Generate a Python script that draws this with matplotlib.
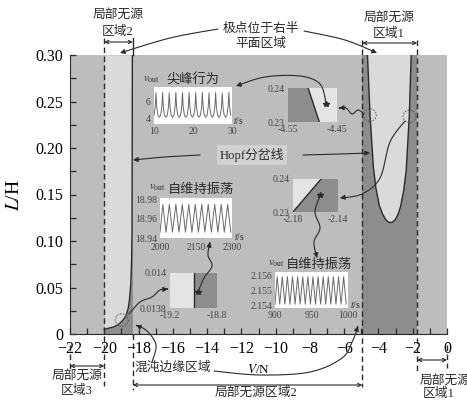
import numpy as np
import matplotlib
matplotlib.use("Agg")
import matplotlib.pyplot as plt
from matplotlib.transforms import Affine2D, blended_transform_factory
from matplotlib.patches import FancyArrowPatch, Ellipse, Polygon
from matplotlib.path import Path
from matplotlib.ticker import MultipleLocator

plt.rcParams['font.family'] = ['Liberation Serif', 'Noto Sans CJK SC']
plt.rcParams['mathtext.fontset'] = 'stix'

# ---------------- data ----------------
x_ticks = [-22, -20, -18, -16, -14, -12, -10, -8, -6, -4, -2, 0]
y_ticks = [0, 0.05, 0.10, 0.15, 0.20, 0.25, 0.30]
y_ticklabels = ['0', '0.05', '0.10', '0.15', '0.20', '0.25', '0.30']

# Hopf bifurcation curve on the left (V, L)
hopf_v = [-20.0, -19.75, -19.47, -19.2, -18.98, -18.8, -18.69, -18.6, -18.53,
          -18.45, -18.41, -18.38, -18.37, -18.36]
hopf_l = [0.005, 0.0062, 0.0075, 0.0098, 0.0135, 0.0175, 0.022, 0.028, 0.0366,
          0.0545, 0.075, 0.11, 0.2, 0.3]

# U-shaped boundary inside local passive region 1 (V, L)
u_v = [-4.64, -4.49, -4.30, -4.15, -3.95, -3.75, -3.59, -3.45, -3.30, -3.15,
       -3.01, -2.86, -2.71, -2.52, -2.38, -2.20, -2.09]
u_l = [0.30, 0.235, 0.180, 0.157, 0.138, 0.1285, 0.1235, 0.1207, 0.1197, 0.1207,
       0.1232, 0.1285, 0.137, 0.155, 0.176, 0.235, 0.30]

# edges of the local passive regions
passive3_v = (-22.0, -20.0)
passive2_v = (-18.33, -4.95)
passive1_v = (-4.95, -1.74)

# inset: spiking behaviour, t = 10..30 s
spike_t = [10.5, 12.2, 13.9, 15.6, 17.3, 19.0, 20.7, 22.4, 24.1, 25.8, 27.5, 29.2]
spike_peak = [7.0, 7.05, 7.0, 7.05, 7.0, 7.05, 7.0, 7.05, 7.0, 7.05, 7.0, 7.05]
spike_base = 4.1

# inset: self-sustained oscillation, t = 2000..2300 s
osc1_peak_t = [2012, 2039, 2066, 2093, 2120, 2147, 2174, 2201, 2228, 2255, 2282]
osc1_trough_t = [2000, 2025, 2052, 2079, 2106, 2133, 2160, 2187, 2214, 2241, 2268, 2295]
osc1_peak_v = 18.975
osc1_trough_v = 18.946

# inset: self-sustained oscillation, t = 900..1000 s
osc2_peak_t = [903, 910, 917, 924, 931, 938, 945, 952, 959, 966, 973, 980, 987, 994]
osc2_trough_t = [900, 906.5, 913.5, 920.5, 927.5, 934.5, 941.5, 948.5, 955.5, 962.5,
                 969.5, 976.5, 983.5, 990.5, 997.5]
osc2_peak_v = 2.1559
osc2_trough_v = 2.1541

# zoomed boundary pieces: (v, l) end points of the boundary segment
zoom_a_line = [(-4.509, 0.24), (-4.486, 0.23)]
zoom_a_star = (-4.472, 0.2353)
zoom_b_line = [(-2.18, 0.23), (-2.155, 0.24)]
zoom_b_star = (-2.1556, 0.2352)
zoom_c_line = [(-19.0, 0.0138), (-19.0, 0.014)]
zoom_c_star = (-18.96, 0.01389)

# marked points (dashed circles)
circle_pts = [(-4.50, 0.2355), (-2.19, 0.234), (-18.98, 0.015)]

# ---------------- styling ----------------
MED = '#bdbdbd'
LIGHT = '#dadada'
DARK = '#8d8d8d'
INK = '#2a2a2a'
W, H = 467, 400

fig = plt.figure(figsize=(W / 100, H / 100), dpi=100)
fig.patch.set_facecolor('white')
px = Affine2D().scale(1 / W, -1 / H).translate(0, 1) + fig.transFigure


def box(x0, y0, x1, y1):
    return [x0 / W, 1 - y1 / H, (x1 - x0) / W, (y1 - y0) / H]


ax = fig.add_axes(box(70, 55, 447, 334))
ax.set_facecolor(MED)
bt = blended_transform_factory(ax.transData, px)

# regions
ax.fill_between(hopf_v, hopf_l, 0.3, color=LIGHT, lw=0, zorder=1)
ax.fill_between(hopf_v, 0, hopf_l, color=DARK, lw=0, zorder=1)
ax.fill_between([hopf_v[-1], passive2_v[0]], 0, 0.015, color=DARK, lw=0, zorder=1)
ax.axvspan(passive1_v[0], passive1_v[1], color=DARK, lw=0, zorder=1)
ax.add_patch(Polygon(list(zip(u_v, u_l)), closed=True, facecolor=LIGHT, lw=0, zorder=2))
ax.plot(hopf_v, hopf_l, color=INK, lw=1.0, zorder=3)
ax.plot(u_v, u_l, color=INK, lw=1.0, zorder=3)

for (cv, cl) in circle_pts:
    ax.add_patch(Ellipse((cv, cl), 0.75, 0.0135, fill=False, ec='#555555',
                         lw=0.7, ls=(0, (1.5, 1.5)), zorder=4))

ax.set_xlim(-22, 0)
ax.set_ylim(0, 0.3)
ax.set_xticks(x_ticks)
ax.xaxis.set_minor_locator(MultipleLocator(1))
ax.set_yticks(y_ticks, y_ticklabels)
ax.yaxis.set_minor_locator(MultipleLocator(0.025))
ax.tick_params(which='both', direction='in', length=4, width=0.9, color=INK,
               top=False, right=False)
ax.tick_params(which='major', labelsize=11.5, pad=5)
ax.spines['top'].set_visible(False)
ax.spines['right'].set_visible(False)
ax.spines['left'].set_color(INK)
ax.spines['bottom'].set_color(INK)
ax.set_ylabel('$L$/H', fontsize=14, labelpad=4)
ax.yaxis.set_label_coords(-0.125, 0.5)
ax.set_xlabel('$V$/N', fontsize=9.5)
ax.xaxis.set_label_coords(0.5, -0.105)

# vertical boundary lines reaching outside the axes
dash = (0, (4, 2.5))
vlines = [
    (passive3_v[1], 38, 386, dash),
    (passive1_v[0], 40, 387, dash),
    (passive1_v[1], 40, 372, dash),
    (passive2_v[0], 334, 390, dash),
    (passive3_v[0], 345, 372, dash),
    (0.0, 345, 368, dash),
]
for v, y0, y1, ls in vlines:
    ax.plot([v, v], [y0, y1], transform=bt, color=INK, lw=1.0, ls=ls,
            clip_on=False, zorder=5)
ax.plot([passive2_v[0], passive2_v[0]], [38, 55], transform=bt, color=INK,
        lw=1.0, clip_on=False, zorder=5)


def span_arrow(v0, v1, y):
    ax.annotate('', xy=(v0, y), xytext=(v1, y), xycoords=bt, textcoords=bt,
                arrowprops=dict(arrowstyle='<->', lw=0.8, color=INK,
                                shrinkA=0, shrinkB=0, mutation_scale=6))


span_arrow(passive3_v[1], passive2_v[0], 42)
span_arrow(passive1_v[0], passive1_v[1], 43)
span_arrow(passive3_v[0], passive3_v[1], 366)
span_arrow(passive2_v[0], passive2_v[1], 385)
span_arrow(passive1_v[1], 0.0, 360)


def label(x, y, s, size=9.2, ha='center', **kw):
    fig.text(x, y, s, transform=px, fontsize=size, ha=ha, va='center',
             color=INK, **kw)


label(118, 16, '局部无源')
label(118, 32, '区域2')
label(261, 29, '极点位于右半')
label(261, 44, '平面区域')
label(389, 19, '局部无源')
label(389, 34, '区域1')
label(77, 377, '局部无源')
label(77, 391, '区域3')
label(256, 393, '局部无源区域2')
label(420, 382, '局部无源', ha='left')
label(439, 394, '区域1')
label(173, 368, '混沌边缘区域')
label(252, 155, 'Hopf分岔线',
      bbox=dict(boxstyle='square,pad=0.25', fc='#d2d2d2', ec='none'))


def smooth(pts, n=12):
    pts = np.asarray(pts, float)
    p = np.vstack([pts[0], pts, pts[-1]])
    out = []
    for i in range(1, len(p) - 2):
        p0, p1, p2, p3 = p[i - 1], p[i], p[i + 1], p[i + 2]
        for s in np.linspace(0, 1, n, endpoint=False):
            out.append(0.5 * ((2 * p1) + (-p0 + p2) * s +
                              (2 * p0 - 5 * p1 + 4 * p2 - p3) * s ** 2 +
                              (-p0 + 3 * p1 - 3 * p2 + p3) * s ** 3))
    out.append(pts[-1])
    return np.array(out)


def curve_arrow(pts, head=True):
    v = smooth(pts)
    path = Path(v)
    a = FancyArrowPatch(path=path, arrowstyle='-|>' if head else '-',
                        mutation_scale=7, lw=0.8, color=INK, transform=px,
                        shrinkA=0, shrinkB=0)
    fig.add_artist(a)


curve_arrow([(218, 29), (170, 38), (120, 53)])
curve_arrow([(304, 31), (345, 40), (377, 53)])
curve_arrow([(200, 155), (165, 157), (133, 160)])
curve_arrow([(303, 155), (340, 154), (370, 153)])
curve_arrow([(364, 114), (358, 110), (352, 114), (346, 108), (339, 108)])
curve_arrow([(326, 103), (320, 84), (300, 76), (265, 77), (236, 86)])
curve_arrow([(405, 121), (390, 142), (380, 178), (362, 194), (340, 198)])
curve_arrow([(320, 196), (315, 212), (320, 228), (314, 242), (317, 258)])
curve_arrow([(129, 314), (140, 302), (152, 297), (160, 290), (168, 289)])
curve_arrow([(198, 292), (204, 278), (212, 266), (208, 255), (210, 242)])
curve_arrow([(152, 362), (156, 345), (147, 331), (136, 325)])
curve_arrow([(214, 371), (260, 375), (310, 372), (342, 358), (353, 340), (358, 326)])


def inset(b, xlim, ylim, xt, xtl, yt, ytl, face='white', pad=2.5):
    a = fig.add_axes(box(*b))
    a.set_xlim(*xlim)
    a.set_ylim(*ylim)
    a.set_xticks(xt, xtl)
    a.set_yticks(yt, ytl)
    a.tick_params(length=0, labelsize=7, pad=pad, colors='#444444')
    for s in a.spines.values():
        s.set_visible(False)
    a.set_facecolor(face)
    return a


# spiking inset
a1 = inset((154, 87, 232, 124), (10, 30), (3.3, 7.7), [10, 20, 30],
           ['10', '20', '30'], [4, 6], ['4', '6'])
tt, vv = [], []
for t, pk in zip(spike_t, spike_peak):
    tt += [t - 0.85, t - 0.5, t - 0.2, t, t + 0.2, t + 0.5]
    vv += [spike_base, spike_base + 0.25, spike_base + 1.2, pk, spike_base + 1.2,
           spike_base + 0.25]
a1.plot(tt, vv, color='#6a6a6a', lw=0.7)
label(151, 80, r'$v_{\rm out}$', size=8)
label(193, 80, '尖峰行为', size=9.5)
label(233, 121, '$t$/s', size=7, ha='left')

# oscillation inset 1
a2 = inset((160, 198, 232, 238), (2000, 2300), (18.9417, 18.9817),
           [2000, 2150, 2300], ['2000', '2150', '2300'],
           [18.94, 18.96, 18.98], ['18.94', '18.96', '18.98'], pad=2)
a2.tick_params(axis='x', pad=3.5)
ot = sorted(osc1_peak_t + osc1_trough_t)
ov = [osc1_peak_v if t in osc1_peak_t else osc1_trough_v for t in ot]
a2.plot(ot, ov, color='#6a6a6a', lw=0.7)
label(157, 188, r'$v_{\rm out}$', size=8)
label(201, 190, '自维持振荡', size=9.5)
label(234, 236, '$t$/s', size=7, ha='left')

# oscillation inset 2
a3 = inset((275, 272, 348, 308), (900, 1000), (2.15385, 2.15621),
           [900, 950, 1000], ['900', '950', '1000'],
           [2.154, 2.155, 2.156], ['2.154', '2.155', '2.156'], pad=2)
ot = sorted(osc2_peak_t + osc2_trough_t)
ov = [osc2_peak_v if t in osc2_peak_t else osc2_trough_v for t in ot]
a3.plot(ot, ov, color='#6a6a6a', lw=0.7)
label(276, 264, r'$v_{\rm out}$', size=8)
label(319, 265, '自维持振荡', size=9.5)
label(350, 304, '$t$/s', size=7, ha='left')

# zoom A: boundary near (-4.5, 0.235)
a4 = inset((288, 88, 337, 122), (-4.55, -4.45), (0.23, 0.24), [-4.55, -4.45],
           ['-4.55', '-4.45'], [0.23, 0.24], ['0.23', '0.24'], face='#e4e4e4')
(xa0, ya0), (xa1, ya1) = zoom_a_line
a4.add_patch(Polygon([(-4.55, 0.23), (-4.55, 0.24), (xa0, ya0), (xa1, ya1)],
                     closed=True, fc=DARK, lw=0))
a4.plot([xa0, xa1], [ya0, ya1], color=INK, lw=1.0)
a4.plot(*zoom_a_star, marker='*', ms=4, color=INK)

# zoom B: boundary near (-2.16, 0.235)
a5 = inset((293, 179, 338, 212), (-2.18, -2.14), (0.23, 0.24), [-2.18, -2.14],
           ['-2.18', '-2.14'], [0.23, 0.24], ['0.23', '0.24'], face='#e4e4e4')
(xb0, yb0), (xb1, yb1) = zoom_b_line
a5.add_patch(Polygon([(xb0, yb0), (xb1, yb1), (-2.14, 0.24), (-2.14, 0.23)],
                     closed=True, fc=DARK, lw=0))
a5.plot([xb0, xb1], [yb0, yb1], color=INK, lw=1.0)
a5.plot(*zoom_b_star, marker='*', ms=4, color=INK)

# zoom C: boundary near (-19.0, 0.0139)
a6 = inset((170, 273, 217, 308), (-19.2, -18.8), (0.0138, 0.014), [-19.2, -18.8],
           ['-19.2', '-18.8'], [0.0138, 0.014], ['0.0138', '0.014'], face='#e4e4e4')
(xc0, yc0), (xc1, yc1) = zoom_c_line
a6.axvspan(xc0, -18.8, color=DARK, lw=0)
a6.plot([xc0, xc1], [yc0, yc1], color=INK, lw=1.0)
a6.plot(*zoom_c_star, marker='*', ms=4, color=INK)

fig.savefig('out.png', dpi=100)
